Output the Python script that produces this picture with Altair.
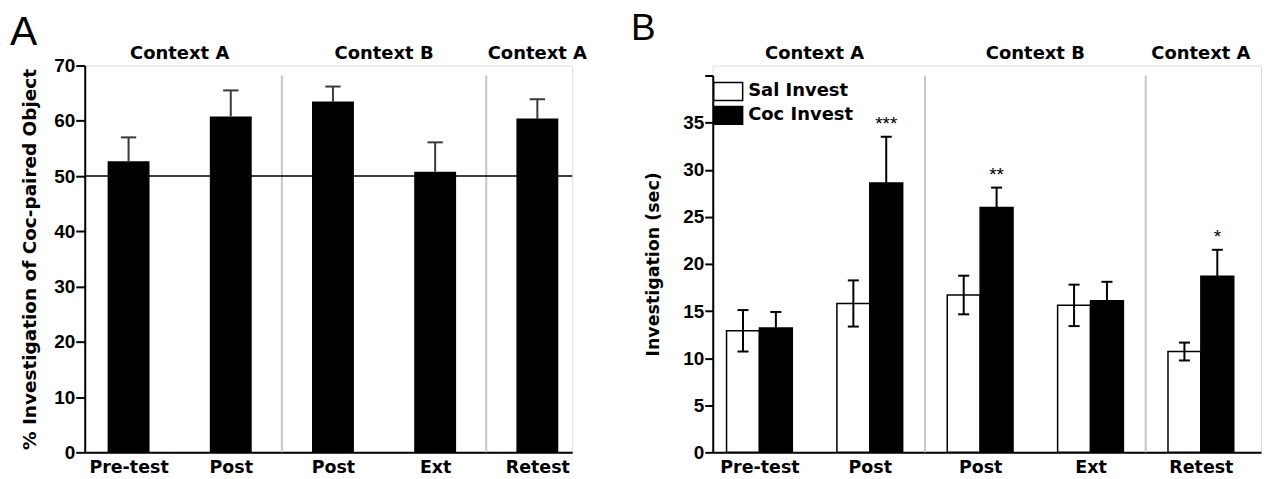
import json
import altair as alt
import pandas as pd

# ---- data -------------------------------------------------------------
phases = ["Pre-test", "Post", "Post", "Ext", "Retest"]
context_names = ["Context A", "Context B", "Context A"]
context_spans = [(0, 1), (2, 3), (4, 4)]          # phase indices covered by each context

# Panel A: % investigation of the cocaine-paired object
pct_mean = [52.7, 60.8, 63.5, 50.8, 60.4]
pct_sem = [4.3, 4.7, 2.7, 5.3, 3.5]

# Panel B: investigation time (sec)
sal_mean = [12.9, 15.8, 16.7, 15.6, 10.7]
sal_sem = [2.2, 2.45, 2.05, 2.2, 0.95]
coc_mean = [13.2, 28.6, 26.0, 16.1, 18.7]
coc_sem = [1.7, 4.9, 2.1, 2.0, 2.8]
coc_stars = ["", "***", "**", "", "*"]

# ---- styling ----------------------------------------------------------
WORD_FONT = "DejaVu Sans"
NUM_FONT = "Liberation Sans"
SEP_GRAY = "#c6c6c6"
PLOT_H = 388
SEP_TOP = 10

label_expr = json.dumps(phases) + "[datum.value]"
ctx_df = pd.DataFrame({
    "label": context_names,
    "pos": [(a + b) / 2 for a, b in context_spans],
})
sep_df = pd.DataFrame({"sep": [(context_spans[i][1] + context_spans[i + 1][0]) / 2
                                for i in range(len(context_spans) - 1)]})


def x_enc(field, scale, axis=False, **kw):
    if axis:
        ax = alt.Axis(values=list(range(len(phases))), labelExpr=label_expr, title=None,
                      ticks=False, grid=False, domainColor="black", domainWidth=2,
                      labelFont=WORD_FONT, labelFontSize=17.5, labelFontWeight="bold",
                      labelColor="black", labelPadding=6, labelAngle=0)
        return alt.X(field, scale=scale, axis=ax, **kw)
    return alt.X(field, scale=scale, title=None, **kw)


def y_enc(field, scale, title, axis=None, **kw):
    if axis is not None:
        return alt.Y(field, scale=scale, axis=axis, title=title, **kw)
    return alt.Y(field, scale=scale, title=title, **kw)


def decorations(xs, letter, letter_size, letter_dx, letter_y):
    seps = alt.Chart(sep_df).mark_rule(color=SEP_GRAY, strokeWidth=2).encode(
        x=x_enc("sep:Q", xs), y=alt.value(SEP_TOP), y2=alt.value(PLOT_H))
    ctx = alt.Chart(ctx_df).mark_text(font=WORD_FONT, fontSize=18, fontWeight="bold",
                                      baseline="alphabetic", color="black").encode(
        x=x_enc("pos:Q", xs), y=alt.value(-7), text="label:N")
    let = alt.Chart(pd.DataFrame({"t": [letter]})).mark_text(
        font=NUM_FONT, fontSize=letter_size, align="left", baseline="alphabetic",
        color="black").encode(x=alt.value(letter_dx), y=alt.value(letter_y), text="t:N")
    return seps, ctx, let


# ---- panel A ----------------------------------------------------------
df_a = pd.DataFrame({"idx": range(len(phases)), "mean": pct_mean, "sem": pct_sem})
xs_a = alt.Scale(domain=[-0.429, 4.341], nice=False, zero=False)
ys_a = alt.Scale(domain=[0, 70], nice=False)
title_a = "% Investigation of Coc-paired Object"
axis_a = alt.Axis(values=list(range(0, 71, 10)), grid=False, tickSize=9, tickWidth=2,
                  tickColor="black", domainColor="black", domainWidth=2,
                  labelFont=NUM_FONT, labelFontSize=19, labelFontWeight="bold",
                  labelColor="black", labelPadding=1, titleFont=WORD_FONT,
                  titleFontSize=18.5, titleFontWeight="bold", titleColor="black",
                  titlePadding=14)

base_a = alt.Chart(df_a).transform_calculate(
    x0="datum.idx - 0.205", x1="datum.idx + 0.205", hi="datum.mean + datum.sem",
    c0="datum.idx - 0.075", c1="datum.idx + 0.075", base="0")

chance = alt.Chart(pd.DataFrame({"v": [50]})).mark_rule(color="black", strokeWidth=1.5).encode(
    y=y_enc("v:Q", ys_a, title_a, axis=axis_a))
bars_a = base_a.mark_bar(color="black").encode(
    x=x_enc("x0:Q", xs_a, axis=True), x2="x1:Q",
    y=y_enc("mean:Q", ys_a, title_a), y2="base:Q")
err_a = base_a.mark_rule(color="#3a3a3a", strokeWidth=2).encode(
    x=x_enc("idx:Q", xs_a), y=y_enc("mean:Q", ys_a, title_a), y2="hi:Q")
cap_a = base_a.mark_rule(color="#3a3a3a", strokeWidth=2).encode(
    x=x_enc("c0:Q", xs_a), x2="c1:Q", y=y_enc("hi:Q", ys_a, title_a))
seps_a, ctx_a, let_a = decorations(xs_a, "A", 41, -75, -21)

panel_a = alt.layer(seps_a, chance, err_a, cap_a, bars_a, ctx_a, let_a).properties(
    width=489, height=PLOT_H)

# ---- panel B ----------------------------------------------------------
rows = []
for i in range(len(phases)):
    rows.append({"idx": i, "series": "Sal Invest", "mean": sal_mean[i], "sem": sal_sem[i],
                 "side": -1, "star": ""})
    rows.append({"idx": i, "series": "Coc Invest", "mean": coc_mean[i], "sem": coc_sem[i],
                 "side": 1, "star": coc_stars[i]})
df_b = pd.DataFrame(rows)
xs_b = alt.Scale(domain=[-0.423, 4.545], nice=False, zero=False)
ys_b = alt.Scale(domain=[0, 40], range=[PLOT_H, SEP_TOP], nice=False)
title_b = "Investigation (sec)"
axis_b = alt.Axis(values=list(range(0, 41, 5)), labelExpr="datum.value < 40 ? datum.label : ''",
                  grid=False, tickSize=8, tickWidth=2, tickColor="black",
                  domainColor="black", domainWidth=2, labelFont=NUM_FONT, labelFontSize=19,
                  labelFontWeight="bold", labelColor="black", labelPadding=1,
                  titleFont=WORD_FONT, titleFontSize=17.5, titleFontWeight="bold",
                  titleColor="black", titlePadding=20)

HALF = 0.298
base_b = alt.Chart(df_b).transform_calculate(
    x0=f"datum.side < 0 ? datum.idx - {HALF} : datum.idx",
    x1=f"datum.side < 0 ? datum.idx : datum.idx + {HALF}",
    xc=f"datum.idx + datum.side * {HALF / 2}",
    lo="datum.mean - datum.sem", hi="datum.mean + datum.sem",
    c0=f"datum.idx + datum.side * {HALF / 2} - 0.05",
    c1=f"datum.idx + datum.side * {HALF / 2} + 0.05", base="0")

# the legend is positioned in the coordinates of the first panel's plot area
B_SHIFT = 624
legend_b = alt.Legend(orient="none", legendX=B_SHIFT + 11.5, legendY=16, title=None, padding=0,
                      symbolType="M-1.61,-1L1.61,-1L1.61,1L-1.61,1Z", symbolSize=324,
                      symbolStrokeColor="black", symbolStrokeWidth=1.5, symbolOpacity=1,
                      labelFont=WORD_FONT, labelFontSize=18, labelFontWeight="bold",
                      labelColor="black", labelOffset=10, rowPadding=0)
bars_b = base_b.mark_bar(stroke="black", strokeWidth=1.5, opacity=1).encode(
    x=x_enc("x0:Q", xs_b, axis=True), x2="x1:Q",
    y=y_enc("mean:Q", ys_b, title_b, axis=axis_b), y2="base:Q",
    fill=alt.Fill("series:N", scale=alt.Scale(domain=["Sal Invest", "Coc Invest"],
                                               range=["white", "black"]), legend=legend_b))
err_b = base_b.mark_rule(color="black", strokeWidth=2).encode(
    x=x_enc("xc:Q", xs_b), y=y_enc("lo:Q", ys_b, title_b), y2="hi:Q")
cap_b = base_b.mark_rule(color="black", strokeWidth=2).encode(
    x=x_enc("c0:Q", xs_b), x2="c1:Q", y=y_enc("hi:Q", ys_b, title_b))
cap_lo_b = base_b.mark_rule(color="black", strokeWidth=2).encode(
    x=x_enc("c0:Q", xs_b), x2="c1:Q", y=y_enc("lo:Q", ys_b, title_b))
stars_b = base_b.transform_filter("datum.star != ''").mark_text(
    font=NUM_FONT, fontSize=19, baseline="alphabetic", dy=-7, color="black").encode(
    x=x_enc("xc:Q", xs_b), y=y_enc("hi:Q", ys_b, title_b), text="star:N")
seps_b, ctx_b, let_b = decorations(xs_b, "B", 37, -82, -26)

panel_b = alt.layer(seps_b, bars_b, err_b, cap_b, cap_lo_b, stars_b, ctx_b, let_b).properties(
    width=550, height=PLOT_H)

chart = alt.hconcat(panel_a, panel_b, spacing=42).properties(
    padding={"left": 9, "top": 8, "right": 4, "bottom": 0}
).configure_view(stroke=None).configure(background="white")

chart.save("out.html", embed_options={"renderer": "svg", "actions": False})
